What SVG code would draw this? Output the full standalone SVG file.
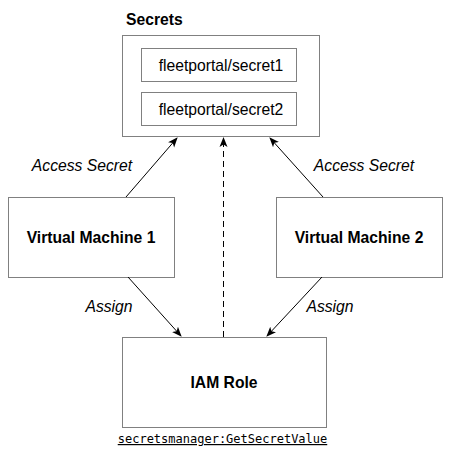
<svg xmlns="http://www.w3.org/2000/svg" width="452" height="455" viewBox="0 0 452 455">
<defs>
<marker id="ah" viewBox="0 0 10 10" refX="9" refY="5" markerWidth="10" markerHeight="10" markerUnits="userSpaceOnUse" orient="auto">
<path d="M0,1 L10,5 L0,9 L2.5,5 Z" fill="#000"/>
</marker>
<style>
.box{fill:#fff;stroke:#808080;stroke-width:1}
.t{font-family:"Liberation Sans",Arial,sans-serif;font-size:15.7px;fill:#000}
.b{font-weight:bold;text-anchor:middle}
.i{font-style:italic;text-anchor:middle}
.e{stroke:#000;stroke-width:1;fill:none;marker-end:url(#ah)}
</style>
</defs>
<rect width="452" height="455" fill="#fff"/>
<g id="secrets">
<rect class="box" x="122.5" y="35.5" width="197" height="101"/>
<text class="t" x="126" y="25" font-weight="bold">Secrets</text>
</g>
<g id="secret1">
<rect class="box" x="141.5" y="48.5" width="155" height="33"/>
<text class="t" x="221" y="70.5" text-anchor="middle">fleetportal/secret1</text>
</g>
<g id="secret2">
<rect class="box" x="141.5" y="92.5" width="155" height="33"/>
<text class="t" x="221" y="114.5" text-anchor="middle">fleetportal/secret2</text>
</g>
<g id="vm1">
<rect class="box" x="8.5" y="197.5" width="166" height="80"/>
<text class="t b" x="91" y="243">Virtual Machine 1</text>
</g>
<g id="vm2">
<rect class="box" x="276.5" y="197.5" width="166" height="80"/>
<text class="t b" x="359" y="243">Virtual Machine 2</text>
</g>
<g id="iam">
<rect class="box" x="122.5" y="337.5" width="204" height="90"/>
<text class="t b" x="224" y="388">IAM Role</text>
<text x="222.5" y="443" text-anchor="middle" font-family="'DejaVu Sans Mono','Liberation Mono',monospace" font-size="12px" text-decoration="underline">secretsmanager:GetSecretValue</text>
</g>
<g id="connectors">
<line class="e" x1="126" y1="197" x2="177" y2="138"/>
<line class="e" x1="323" y1="197" x2="270" y2="138"/>
<line class="e" x1="223.5" y1="337" x2="223.5" y2="138" stroke-dasharray="6,4"/>
<line class="e" x1="128" y1="277" x2="181" y2="336"/>
<line class="e" x1="322" y1="277" x2="267" y2="336"/>
<text class="t i" x="82" y="171">Access Secret</text>
<text class="t i" x="364" y="171">Access Secret</text>
<text class="t i" x="109" y="312">Assign</text>
<text class="t i" x="330" y="312">Assign</text>
</g>
</svg>
